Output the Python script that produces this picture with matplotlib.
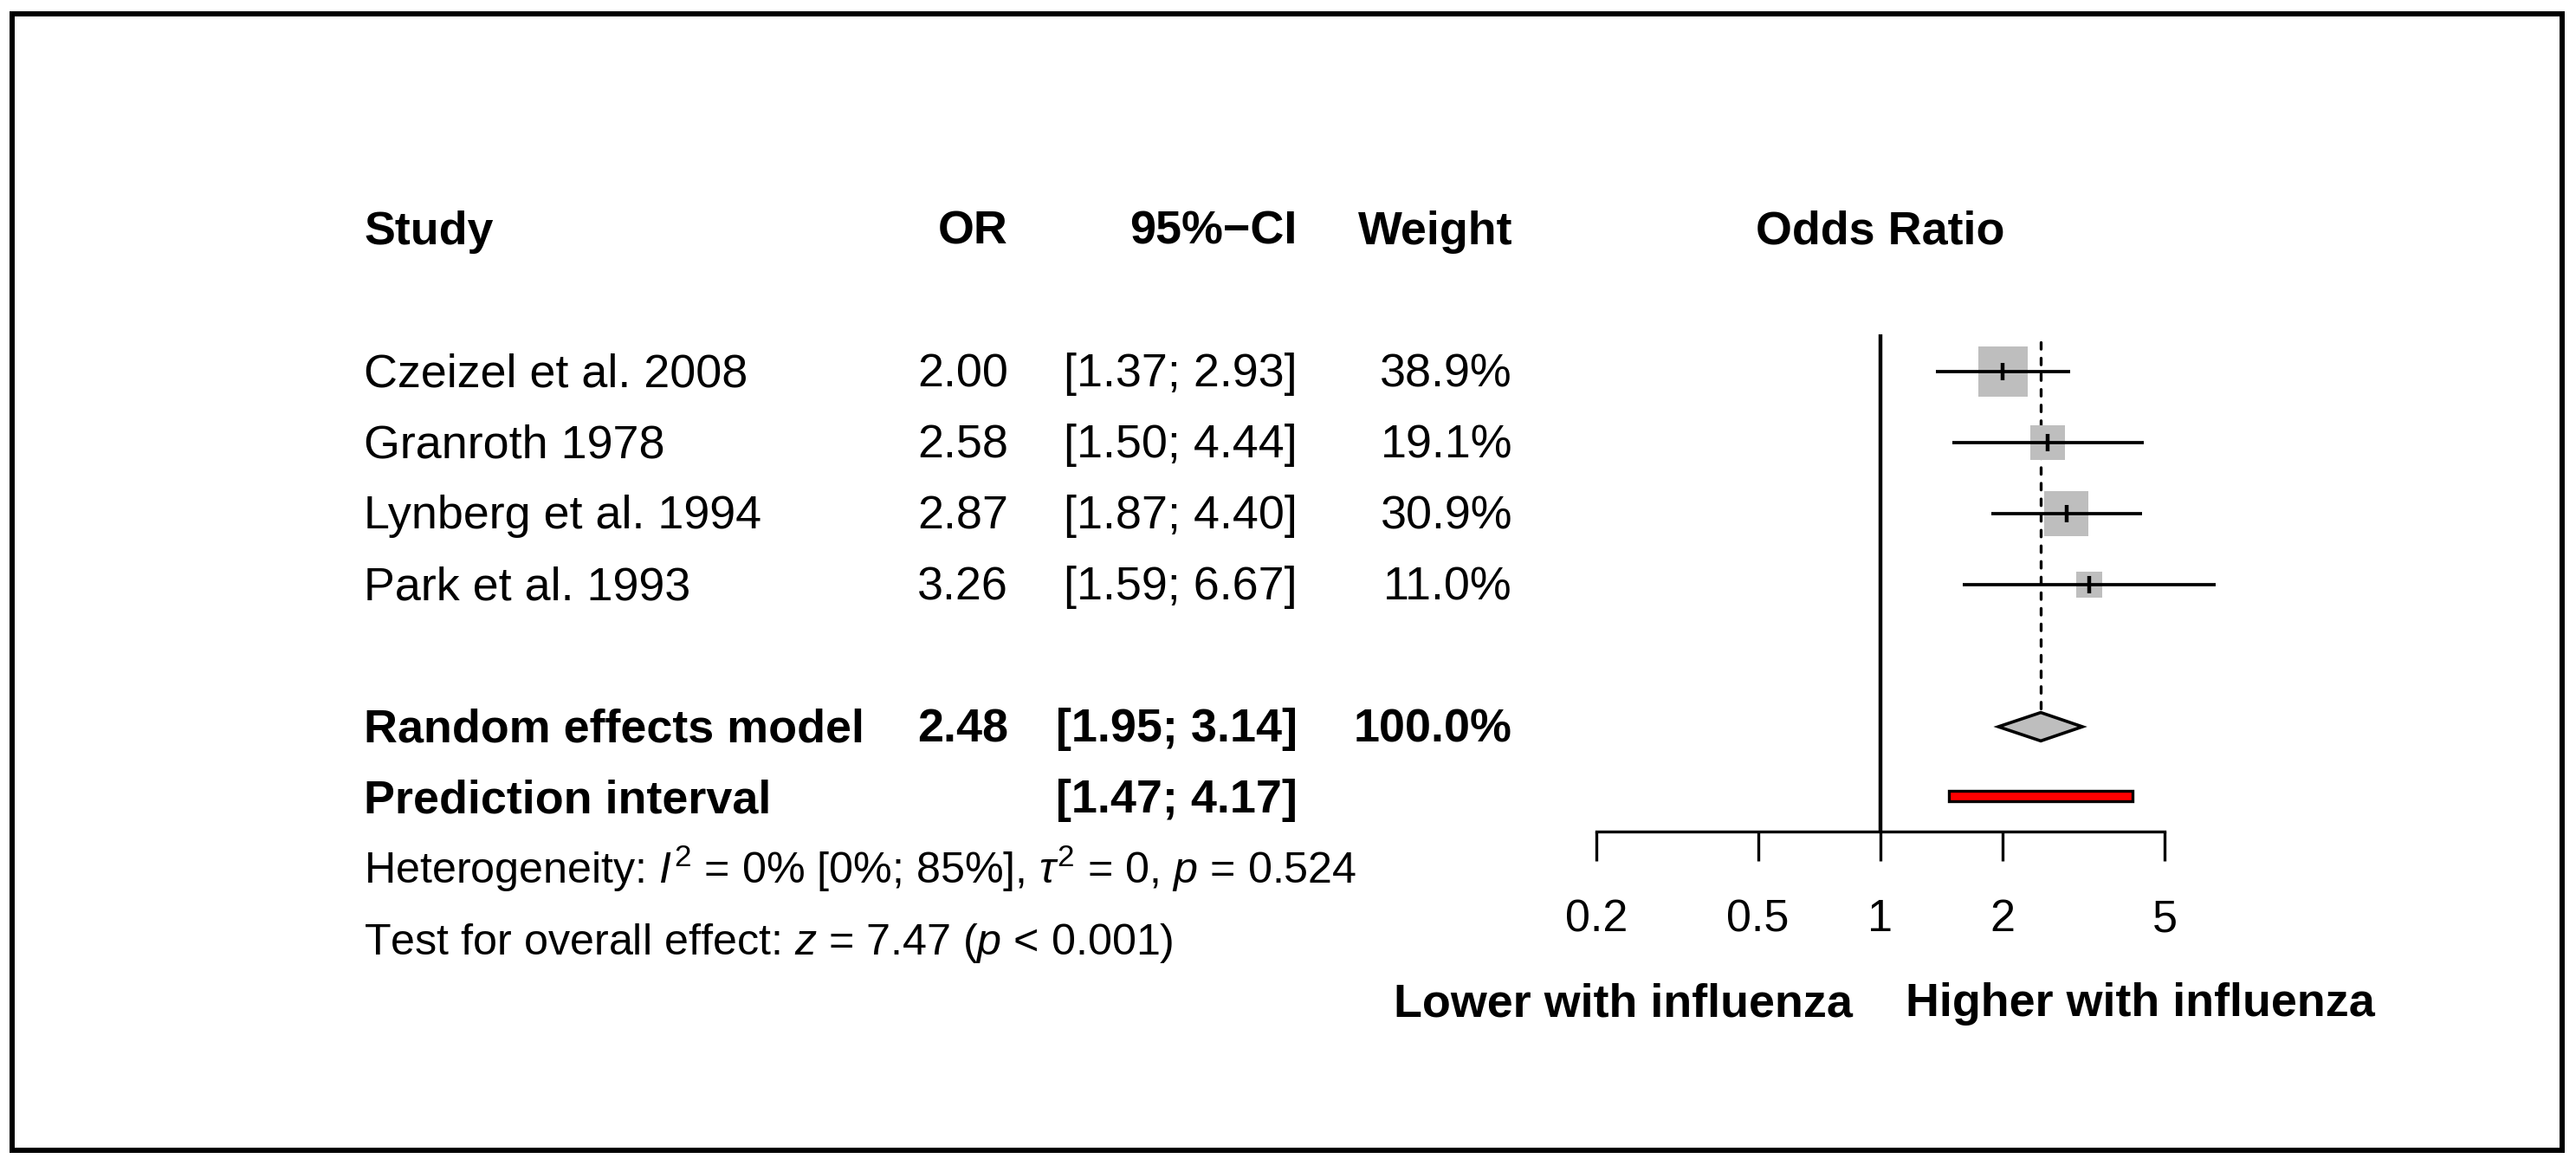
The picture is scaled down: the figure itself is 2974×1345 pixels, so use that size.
import numpy as np
import matplotlib.pyplot as plt
from matplotlib.patches import Rectangle
from matplotlib.ticker import NullLocator
from matplotlib.transforms import blended_transform_factory

plt.rcParams['font.family'] = ['Liberation Sans', 'DejaVu Sans']
plt.rcParams['mathtext.fontset'] = 'custom'
plt.rcParams['mathtext.rm'] = 'Liberation Sans'
plt.rcParams['mathtext.it'] = 'Liberation Sans:italic'
plt.rcParams['mathtext.bf'] = 'Liberation Sans:bold'
plt.rcParams['lines.scale_dashes'] = False

# study data
studies = ['Czeizel et al. 2008', 'Granroth 1978', 'Lynberg et al. 1994', 'Park et al. 1993']
odds = [2.00, 2.58, 2.87, 3.26]
ci_lo = [1.37, 1.50, 1.87, 1.59]
ci_hi = [2.93, 4.44, 4.40, 6.67]
weight = [38.9, 19.1, 30.9, 11.0]

# pooled estimate and prediction interval
re_or, re_lo, re_hi, re_weight = 2.48, 1.95, 3.14, 100.0
pi_lo, pi_hi = 1.47, 4.17

# heterogeneity / overall test
i2, i2_lo, i2_hi = 0, 0, 85
tau2 = 0
p_het = 0.524
z_val = 7.47

ticks = [0.2, 0.5, 1, 2, 5]
tick_labels = ['0.2', '0.5', '1', '2', '5']

W, H = 2974, 1345
fig = plt.figure(figsize=(W / 100, H / 100), dpi=100)

# layout in pixels of the original picture
x0, x1 = 1843, 2499          # 0.2 .. 5 on the log axis
row1_px, row_h = 429, 82     # centre of first study row, row spacing


def row_of(px):
    return 1 + (px - row1_px) / row_h


ax = fig.add_axes([x0 / W, 0, (x1 - x0) / W, 1])
ax.set_xscale('log')
ax.set_xlim(0.2, 5)
ax.set_ylim(row_of(H), row_of(0))
ax.axis('off')

rows = np.arange(1, len(studies) + 1)
head_row, re_row, pi_row, het_row, test_row = -1, 6, 7, 8, 9
axis_row = row_of(960)
label_row = row_of(1156)
base = 17 / row_h   # baseline offset below the row centre

# reference lines
ax.plot([1, 1], [row_of(386), axis_row], color='black', lw=3.2, solid_capstyle='butt')
ax.plot([re_or, re_or], [row_of(395), re_row - 0.2], color='black', lw=2.4,
        dashes=(5.5, 7.5), dash_capstyle='round')

# study squares, CIs and point marks
side_px = 9.2 * np.sqrt(weight)
ax.scatter(odds, rows, s=(side_px * 0.72) ** 2, marker='s', c='#BEBEBE',
           linewidths=0, zorder=2)
ax.hlines(rows, ci_lo, ci_hi, color='black', lw=2.7, zorder=3, clip_on=False)
ax.scatter(odds, rows, s=(20 * 0.72) ** 2, marker='|', c='black',
           linewidths=3.2, zorder=4)

# random effects diamond
ax.fill([re_lo, re_or, re_hi, re_or], [re_row, re_row - 0.2, re_row, re_row + 0.2],
        facecolor='#BEBEBE', edgecolor='black', lw=2.6, zorder=3)

# prediction interval bar
ax.fill([pi_lo, pi_hi, pi_hi, pi_lo],
        [pi_row - 0.1, pi_row - 0.1, pi_row + 0.05, pi_row + 0.05],
        facecolor='red', edgecolor='black', lw=2.4, zorder=3)

# x axis
axx = fig.add_axes([x0 / W, 1 - 960 / H, (x1 - x0) / W, 0.001])
axx.set_xscale('log')
axx.set_xlim(0.2, 5)
axx.patch.set_visible(False)
for s in ['top', 'left', 'right']:
    axx.spines[s].set_visible(False)
axx.spines['bottom'].set_linewidth(2.4)
axx.set_yticks([])
axx.set_xticks(ticks)
axx.set_xticklabels(tick_labels)
axx.xaxis.set_minor_locator(NullLocator())
axx.tick_params(axis='x', direction='out', length=24.5, width=2.4, pad=31,
                labelsize=37.5)

# table text
fs = 38.8
fs_small = 36.2
tr = blended_transform_factory(fig.transFigure, ax.transData)
col_study, col_or, col_ci, col_w = 420 / W, 1164 / W, 1498 / W, 1746 / W


def row_text(y, name, o, ci, w, bold=False):
    kw = dict(transform=tr, fontsize=fs, va='baseline',
              fontweight='bold' if bold else 'normal')
    ax.text(col_study, y + base, name, ha='left', **kw)
    ax.text(col_or, y + base, o, ha='right', **kw)
    ax.text(col_ci, y + base, ci, ha='right', **kw)
    ax.text(col_w, y + base, w, ha='right', **kw)


row_text(head_row, 'Study', 'OR', '95%\u2212CI', 'Weight', bold=True)
ax.text(1, head_row + base, 'Odds Ratio', ha='center', va='baseline',
        fontsize=fs, fontweight='bold')

for r, name, o, lo, hi, w in zip(rows, studies, odds, ci_lo, ci_hi, weight):
    row_text(r, name, f'{o:.2f}', f'[{lo:.2f}; {hi:.2f}]', f'{w:.1f}%')

row_text(re_row, 'Random effects model', f'{re_or:.2f}', f'[{re_lo:.2f}; {re_hi:.2f}]',
         f'{re_weight:.1f}%', bold=True)
row_text(pi_row, 'Prediction interval', '', f'[{pi_lo:.2f}; {pi_hi:.2f}]', '', bold=True)

ax.text(col_study, het_row + base,
        f'Heterogeneity: $\\mathit{{I}}^2$ = {i2}% [{i2_lo}%; {i2_hi}%], '
        f'$\\tau^2$ = {tau2}, $\\mathit{{p}}$ = {p_het:.3f}',
        transform=tr, fontsize=fs_small, va='baseline', ha='left')
ax.text(col_study, test_row + base,
        f'Test for overall effect: $\\mathit{{z}}$ = {z_val:.2f} ($\\mathit{{p}}$ < 0.001)',
        transform=tr, fontsize=fs_small, va='baseline', ha='left')

# direction labels under the axis
ax.text(2139 / W, label_row + base, 'Lower with influenza', transform=tr, ha='right',
        va='baseline', fontsize=fs, fontweight='bold')
ax.text(2200 / W, label_row + base, 'Higher with influenza', transform=tr, ha='left',
        va='baseline', fontsize=fs, fontweight='bold')

# frame around the whole picture
fig.add_artist(Rectangle((14 / W, 1 - 1328 / H), (2958 - 14) / W, (1328 - 16) / H,
                         transform=fig.transFigure, fill=False, lw=4.3, ec='black'))

fig.savefig('out.png', dpi=100)
